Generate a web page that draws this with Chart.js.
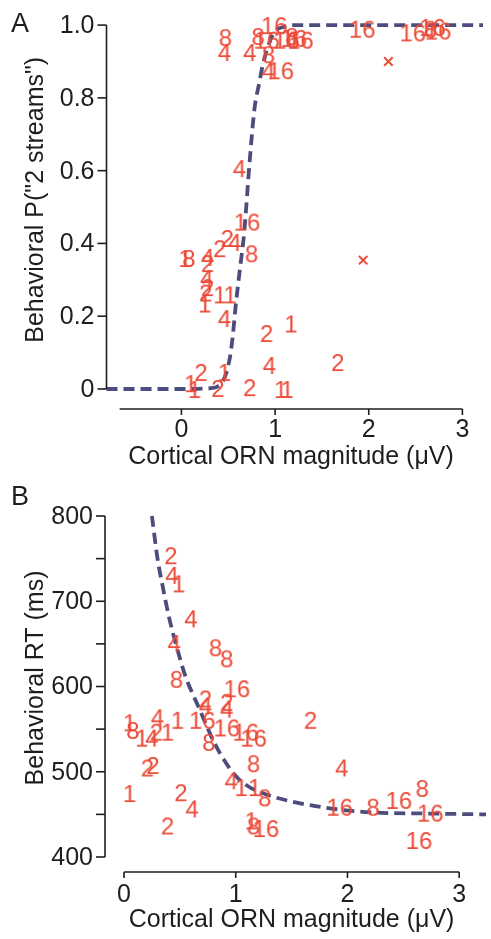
<!DOCTYPE html>
<html>
<head>
<meta charset="utf-8">
<script src="https://cdn.jsdelivr.net/npm/chart.js@4.4.1/dist/chart.umd.min.js"></script>
<style>
  html, body { margin: 0; padding: 0; background: #fff; }
  #wrap { position: relative; width: 491px; height: 939px; }
  canvas { position: absolute; left: 0; }
  #chartA { top: 0; }
  #chartB { top: 470px; }
</style>
</head>
<body>
<div id="wrap">
  <canvas id="chartA" width="491" height="470"></canvas>
  <canvas id="chartB" width="491" height="469"></canvas>
</div>
<script>
// ---- panel A: behavioral P("2 streams") vs cortical ORN magnitude ----
const aMagnitude = [0.47, 0.46, 0.82, 0.73, 0.99, 0.91, 0.93, 0.93, 1.06, 1.12, 1.18, 1.20, 1.27, 1.93, 2.47, 2.66, 2.68, 2.74,
                    0.62, 0.70, 0.75, 0.49, 0.57, 0.41, 0.28, 0.28, 0.04, 0.08, 0.27, 0.28, 0.26, 0.25, 0.41, 0.52,
                    0.46, 0.91, 1.17, 1.67, 0.94, 0.21, 0.46, 0.10, 0.14, 0.39, 0.73, 1.06, 1.13];
const aProb      = [0.967, 0.926, 0.97, 0.926, 1.0, 0.96, 0.92, 0.876, 0.876, 0.96, 0.97, 0.965, 0.96, 0.99, 0.98, 0.99, 0.995, 0.985,
                    0.607, 0.46, 0.373, 0.415, 0.404, 0.387, 0.363, 0.346, 0.36, 0.36, 0.305, 0.28, 0.265, 0.235, 0.26, 0.26,
                    0.195, 0.154, 0.18, 0.074, 0.066, 0.047, 0.047, 0.016, 0.0, 0.003, 0.005, 0.0, 0.0];
const aLevel     = [8, 4, 8, 4, 16, 16, 8, 4, 16, 16, 8, 16, 16, 16, 16, 8, 16, 16,
                    4, 16, 8, 2, 4, 2, 4, 2, 1, 8, 4, 2, 2, 1, 1, 1,
                    4, 2, 1, 2, 4, 2, 1, 1, 1, 2, 2, 1, 1];
const aCrossX = [2.21, 1.94];
const aCrossY = [0.90, 0.354];
const aFitX = [-0.8, 0.0, 0.3, 0.38, 0.44, 0.48, 0.52, 0.55, 0.58, 0.62, 0.67, 0.73, 0.78, 0.83, 0.86, 0.91, 0.99, 1.09, 1.23, 3.22];
const aFitY = [0, 0, 0.002, 0.006, 0.02, 0.045, 0.09, 0.15, 0.23, 0.32, 0.43, 0.63, 0.77, 0.84, 0.88, 0.93, 0.98, 0.995, 1.0, 1.0];
const aYTicks = [0, 0.2, 0.4, 0.6, 0.8, 1.0];
const aYTickLabels = ['0', '0.2', '0.4', '0.6', '0.8', '1.0'];
const aXTicks = [0, 1, 2, 3];

// ---- panel B: behavioral RT vs cortical ORN magnitude ----
const bMagnitude = [0.42, 0.43, 0.49, 0.60, 0.45, 0.82, 0.92, 0.47, 1.01, 0.73, 0.73, 0.92, 0.92, 0.30, 0.48, 0.70,
                    0.92, 0.05, 0.08, 0.16, 0.25, 0.29, 0.39, 0.76, 1.09, 1.16, 1.16, 0.21, 0.26, 0.96, 1.05, 1.17,
                    1.26, 0.05, 0.51, 0.61, 0.39, 1.14, 1.16, 1.27, 1.67, 1.95, 1.93, 2.23, 2.46, 2.67, 2.74, 2.64];
const bRT        = [754, 731, 721, 680, 651, 646, 633, 609, 598, 586, 578, 582, 574, 564, 561, 561,
                    552, 558, 549, 540, 540, 547, 547, 535, 547, 540, 510, 505, 508, 490, 482, 482,
                    470, 475, 476, 457, 437, 443, 437, 434, 561, 505, 459, 459, 467, 481, 452, 420];
const bLevel     = [2, 4, 1, 4, 4, 8, 8, 8, 16, 2, 4, 2, 4, 4, 1, 16,
                    16, 1, 8, 1, 4, 2, 1, 8, 16, 16, 8, 2, 2, 4, 1, 1,
                    8, 1, 2, 4, 2, 1, 8, 16, 2, 4, 16, 8, 16, 8, 16, 16];
const bFitX = [0.25, 0.30, 0.35, 0.40, 0.46, 0.55, 0.64, 0.73, 0.80, 0.89, 1.0, 1.11, 1.26, 1.5, 1.7, 1.9, 2.26, 2.7, 3.24];
const bFitY = [800, 750, 715, 683, 652, 612, 584, 557, 536, 515, 495, 483, 474, 465, 460, 456, 452, 451, 450];
const bYTicks = [400, 450, 500, 550, 600, 650, 700, 750, 800];
const bYTickLabels = ['400', '', '500', '', '600', '', '700', '', '800'];
const bXTicks = [0, 1, 2, 3];

const red = '#EC4A37';
const fitColor = '#4D4D7D';
const inkColor = '#1e1e1e';
const fontName = '"Liberation Sans", Arial, sans-serif';
const levelFont = 24;

// small images of the intensity numbers, used as point styles
const levelImages = {};
[1, 2, 4, 8, 16].forEach(function (n) {
    const text = String(n);
    const c = document.createElement('canvas');
    let ctx = c.getContext('2d');
    ctx.font = levelFont + 'px ' + fontName;
    const w = Math.ceil(ctx.measureText(text).width) + 2;
    c.width = w;
    c.height = 28;
    ctx = c.getContext('2d');
    ctx.font = levelFont + 'px ' + fontName;
    ctx.fillStyle = red;
    ctx.textAlign = 'center';
    ctx.textBaseline = 'alphabetic';
    ctx.fillText(text, w / 2, 14 + 0.716 * levelFont / 2);
    levelImages[n] = c;
});

function toPoints(xs, ys) {
    return xs.map((x, i) => ({x: x, y: ys[i]}));
}

// draws the detached axes, ticks, titles and panel letter from the chart's scales
const panelAxes = {
    id: 'panelAxes',
    afterDraw(chart, args, opts) {
        const ctx = chart.ctx;
        const xs = chart.scales.x;
        const ys = chart.scales.y;
        const area = chart.chartArea;
        ctx.save();
        ctx.strokeStyle = inkColor;
        ctx.fillStyle = inkColor;
        ctx.lineWidth = 1.6;

        // y axis
        const x0 = area.left;
        ctx.beginPath();
        ctx.moveTo(x0, ys.getPixelForValue(opts.yTicks[0]));
        ctx.lineTo(x0, ys.getPixelForValue(opts.yTicks[opts.yTicks.length - 1]));
        ctx.stroke();
        ctx.font = '25px ' + fontName;
        ctx.textAlign = 'right';
        ctx.textBaseline = 'middle';
        opts.yTicks.forEach((v, i) => {
            const py = ys.getPixelForValue(v);
            ctx.beginPath();
            ctx.moveTo(x0 - 9, py);
            ctx.lineTo(x0, py);
            ctx.stroke();
            if (opts.yLabels[i]) ctx.fillText(opts.yLabels[i], x0 - 12, py + 1);
        });

        // x axis
        const y0 = area.bottom;
        const xa = xs.getPixelForValue(opts.xFrom);
        const xb = xs.getPixelForValue(opts.xTicks[opts.xTicks.length - 1]);
        ctx.beginPath();
        ctx.moveTo(xa, y0);
        ctx.lineTo(xb, y0);
        ctx.stroke();
        ctx.textAlign = 'center';
        opts.xTicks.forEach((v) => {
            const px = xs.getPixelForValue(v);
            ctx.beginPath();
            ctx.moveTo(px, y0);
            ctx.lineTo(px, y0 + 6);
            ctx.stroke();
            ctx.fillText(String(v), px, y0 + opts.xLabelGap);
        });
        ctx.fillText(opts.xTitle, (xa + xb) / 2, y0 + 48);

        // y title
        ctx.save();
        ctx.translate(36, ys.getPixelForValue(opts.yTitleAt));
        ctx.rotate(-Math.PI / 2);
        ctx.fillText(opts.yTitle, 0, 0);
        ctx.restore();

        // panel letter
        ctx.font = '27px ' + fontName;
        ctx.textAlign = 'left';
        ctx.textBaseline = 'alphabetic';
        ctx.fillText(opts.letter, 11, opts.letterY);
        ctx.restore();
    }
};

function makePanel(canvasId, cfg) {
    return new Chart(document.getElementById(canvasId), {
        type: 'scatter',
        data: {
            datasets: [
                {
                    label: 'points',
                    data: toPoints(cfg.xs, cfg.ys),
                    pointStyle: (c) => levelImages[cfg.levels[c.dataIndex]],
                    pointRadius: 3,
                    clip: false,
                    order: 1
                },
                {
                    label: 'crosses',
                    data: toPoints(cfg.crossX, cfg.crossY),
                    pointStyle: 'crossRot',
                    pointRadius: 6,
                    borderColor: red,
                    borderWidth: 2,
                    clip: false,
                    order: 1
                },
                {
                    type: 'line',
                    label: 'fit',
                    data: toPoints(cfg.fitX, cfg.fitY),
                    borderColor: fitColor,
                    borderWidth: 3.8,
                    borderDash: [11, 6],
                    cubicInterpolationMode: 'monotone',
                    pointRadius: 0,
                    fill: false,
                    clip: false,
                    order: 2
                }
            ]
        },
        options: {
            responsive: false,
            animation: false,
            events: [],
            layout: {padding: cfg.padding},
            scales: {
                x: {type: 'linear', display: false, min: cfg.xMin, max: cfg.xMax},
                y: {type: 'linear', display: false, min: cfg.yMin, max: cfg.yMax}
            },
            plugins: {
                legend: {display: false},
                tooltip: {enabled: false},
                panelAxes: cfg.axes
            }
        },
        plugins: [panelAxes]
    });
}

makePanel('chartA', {
    xs: aMagnitude, ys: aProb, levels: aLevel,
    crossX: aCrossX, crossY: aCrossY,
    fitX: aFitX, fitY: aFitY,
    padding: {left: 106.5, right: 0, top: 20, bottom: 61},
    xMin: -0.8, xMax: 3.22, yMin: -0.055, yMax: 1.014,
    axes: {
        yTicks: aYTicks, yLabels: aYTickLabels, xTicks: aXTicks, xFrom: -0.66,
        xLabelGap: 21, xTitle: 'Cortical ORN magnitude (μV)',
        yTitle: 'Behavioral P("2 streams")', yTitleAt: 0.52,
        letter: 'A', letterY: 32
    }
});

makePanel('chartB', {
    xs: bMagnitude, ys: bRT, levels: bLevel,
    crossX: [], crossY: [],
    fitX: bFitX, fitY: bFitY,
    padding: {left: 105, right: 0, top: 38, bottom: 67},
    xMin: -0.17, xMax: 3.24, yMin: 382.4, yMax: 809.4,
    axes: {
        yTicks: bYTicks, yLabels: bYTickLabels, xTicks: bXTicks, xFrom: 0,
        xLabelGap: 23, xTitle: 'Cortical ORN magnitude (μV)',
        yTitle: 'Behavioral RT (ms)', yTitleAt: 610,
        letter: 'B', letterY: 35
    }
});
</script>
</body>
</html>
